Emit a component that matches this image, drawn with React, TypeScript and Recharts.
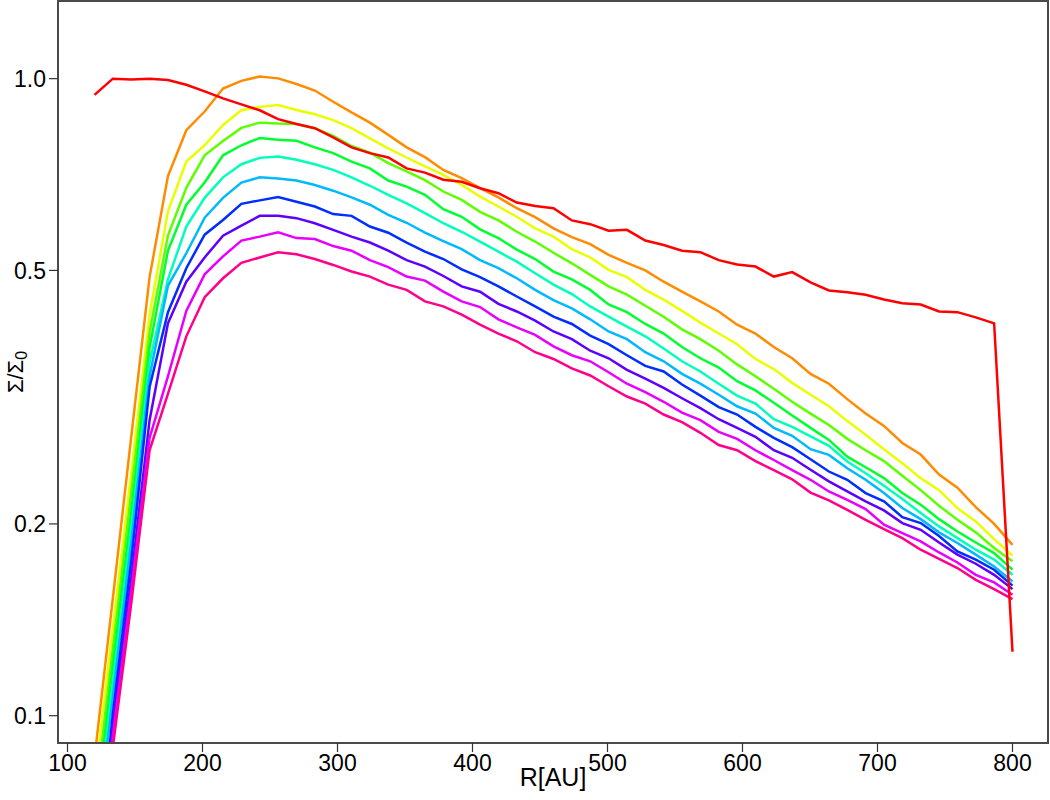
import { LineChart, Line, XAxis, YAxis, ReferenceArea } from "recharts";

// radial grid [AU]
const radius = [
  120, 133.6, 147.2, 160.8, 174.4, 188, 201.6, 215.2, 228.8, 242.4, 256,
  269.6, 283.2, 296.8, 310.4, 324, 337.6, 351.2, 364.8, 378.4, 392, 405.6, 419.2, 432.8, 446.4, 460,
  473.6, 487.2, 500.8, 514.4, 528, 541.6, 555.2, 568.8, 582.4, 596, 609.6, 623.2, 636.8,
  650.4, 664, 677.6, 691.2, 704.8, 718.4, 732, 745.6, 759.2, 772.8, 786.4, 800,
];

// Sigma / Sigma0 for each snapshot
const snap0 = [
  0.943, 1.0, 0.997, 1.0, 0.995, 0.978, 0.955, 0.931, 0.911, 0.892, 0.864,
  0.849, 0.836, 0.809, 0.78, 0.764, 0.752, 0.723, 0.712, 0.694, 0.689, 0.673, 0.661, 0.639, 0.631, 0.626,
  0.599, 0.591, 0.577, 0.579, 0.557, 0.548, 0.537, 0.534, 0.519, 0.511, 0.507, 0.489, 0.497,
  0.479, 0.465, 0.462, 0.458, 0.45, 0.444, 0.442, 0.431, 0.43, 0.422, 0.413, 0.126,
];
const snap1 = [
  0.0857, 0.153, 0.274, 0.488, 0.703, 0.83, 0.888, 0.965, 0.992, 1.008, 1.001,
  0.981, 0.958, 0.92, 0.885, 0.853, 0.816, 0.78, 0.753, 0.719, 0.698, 0.673, 0.651, 0.626, 0.606, 0.582,
  0.564, 0.55, 0.529, 0.514, 0.5, 0.48, 0.463, 0.447, 0.431, 0.411, 0.398, 0.379, 0.364,
  0.344, 0.332, 0.314, 0.298, 0.285, 0.268, 0.257, 0.239, 0.228, 0.2125, 0.2, 0.1854,
];
const snap2 = [
  0.0791, 0.138, 0.241, 0.426, 0.619, 0.741, 0.786, 0.846, 0.892, 0.903, 0.909,
  0.893, 0.879, 0.861, 0.836, 0.806, 0.777, 0.752, 0.728, 0.706, 0.681, 0.653, 0.63, 0.607, 0.582, 0.565,
  0.54, 0.524, 0.501, 0.488, 0.466, 0.45, 0.432, 0.414, 0.398, 0.383, 0.363, 0.35, 0.333,
  0.319, 0.306, 0.29, 0.276, 0.262, 0.249, 0.236, 0.226, 0.2118, 0.2018, 0.1893, 0.1783,
];
const snap3 = [
  0.0724, 0.1276, 0.224, 0.4, 0.567, 0.674, 0.758, 0.798, 0.837, 0.853, 0.85,
  0.849, 0.836, 0.813, 0.784, 0.765, 0.737, 0.715, 0.693, 0.665, 0.645, 0.618, 0.599, 0.575, 0.555, 0.533,
  0.513, 0.492, 0.472, 0.458, 0.44, 0.423, 0.404, 0.39, 0.374, 0.356, 0.341, 0.326, 0.311,
  0.298, 0.286, 0.272, 0.261, 0.251, 0.238, 0.226, 0.2136, 0.203, 0.194, 0.1833, 0.1747,
];
const snap4 = [
  0.0676, 0.12, 0.2087, 0.378, 0.537, 0.634, 0.687, 0.758, 0.786, 0.807, 0.802,
  0.799, 0.78, 0.764, 0.741, 0.723, 0.692, 0.677, 0.657, 0.624, 0.607, 0.58, 0.562, 0.539, 0.521, 0.498,
  0.484, 0.466, 0.442, 0.43, 0.412, 0.398, 0.379, 0.364, 0.352, 0.335, 0.324, 0.31, 0.296,
  0.283, 0.271, 0.255, 0.2455, 0.236, 0.2236, 0.2144, 0.2035, 0.1946, 0.187, 0.18, 0.1695,
];
const snap5 = [
  0.0635, 0.1124, 0.196, 0.358, 0.484, 0.586, 0.65, 0.7, 0.734, 0.751, 0.755,
  0.746, 0.734, 0.719, 0.7, 0.679, 0.657, 0.637, 0.615, 0.593, 0.575, 0.555, 0.535, 0.516, 0.495, 0.475,
  0.459, 0.439, 0.423, 0.408, 0.394, 0.377, 0.36, 0.347, 0.332, 0.318, 0.309, 0.292, 0.284,
  0.2745, 0.2652, 0.2506, 0.2402, 0.2296, 0.2188, 0.208, 0.1982, 0.19, 0.1822, 0.1758, 0.1664,
];
const snap6 = [
  0.0615, 0.107, 0.187, 0.341, 0.473, 0.532, 0.605, 0.65, 0.687, 0.7, 0.697,
  0.692, 0.681, 0.667, 0.651, 0.634, 0.611, 0.594, 0.573, 0.556, 0.54, 0.519, 0.504, 0.486, 0.466, 0.449,
  0.436, 0.419, 0.401, 0.39, 0.372, 0.36, 0.344, 0.332, 0.319, 0.306, 0.298, 0.283, 0.275,
  0.262, 0.2567, 0.2446, 0.2346, 0.2236, 0.2118, 0.2035, 0.194, 0.1867, 0.179, 0.1715, 0.1624,
];
const snap7 = [
  0.0526, 0.1006, 0.175, 0.328, 0.43, 0.504, 0.569, 0.6, 0.636, 0.644, 0.652,
  0.641, 0.63, 0.613, 0.609, 0.586, 0.573, 0.553, 0.535, 0.521, 0.502, 0.488, 0.472, 0.455, 0.439, 0.423,
  0.412, 0.395, 0.383, 0.368, 0.354, 0.347, 0.331, 0.318, 0.305, 0.297, 0.284, 0.273, 0.264,
  0.2527, 0.2417, 0.2346, 0.2236, 0.217, 0.205, 0.2006, 0.1915, 0.1811, 0.1758, 0.1695, 0.16,
];
const snap8 = [
  0.0484, 0.0974, 0.164, 0.291, 0.413, 0.48, 0.524, 0.567, 0.588, 0.609, 0.609,
  0.604, 0.593, 0.579, 0.565, 0.553, 0.537, 0.519, 0.507, 0.49, 0.472, 0.463, 0.443, 0.431, 0.417, 0.401,
  0.39, 0.374, 0.364, 0.349, 0.338, 0.327, 0.315, 0.304, 0.292, 0.283, 0.274, 0.261, 0.254,
  0.2432, 0.2332, 0.2249, 0.217, 0.21, 0.2006, 0.1958, 0.187, 0.179, 0.1732, 0.1664, 0.158,
];
const snap9 = [
  0.0446, 0.0929, 0.157, 0.273, 0.341, 0.432, 0.493, 0.526, 0.557, 0.565, 0.574,
  0.562, 0.56, 0.546, 0.537, 0.519, 0.506, 0.489, 0.482, 0.463, 0.447, 0.438, 0.419, 0.407, 0.396, 0.38,
  0.368, 0.36, 0.346, 0.332, 0.322, 0.311, 0.299, 0.291, 0.279, 0.272, 0.261, 0.252, 0.243,
  0.2346, 0.2249, 0.2182, 0.211, 0.1994, 0.1935, 0.1877, 0.1804, 0.174, 0.1664, 0.1619, 0.1548,
];
const snap10 = [
  0.0415, 0.0893, 0.15, 0.261, 0.32, 0.394, 0.454, 0.486, 0.514, 0.524, 0.534,
  0.53, 0.521, 0.51, 0.498, 0.489, 0.475, 0.466, 0.447, 0.439, 0.426, 0.411, 0.398, 0.387, 0.372, 0.363,
  0.351, 0.342, 0.329, 0.317, 0.309, 0.297, 0.289, 0.278, 0.266, 0.261, 0.251, 0.243, 0.235,
  0.224, 0.2177, 0.2104, 0.203, 0.1963, 0.19, 0.1822, 0.1762, 0.1705, 0.1634, 0.158, 0.1524,
];

const snapshots = [snap0, snap1, snap2, snap3, snap4, snap5, snap6, snap7, snap8, snap9, snap10];
// rainbow(11)
const snapColors = [
  "#FF0000", "#FF8B00", "#E8FF00", "#5DFF00", "#00FF2E", "#00FFB9",
  "#00B9FF", "#002EFF", "#5D00FF", "#E800FF", "#FF008B",
];

const xTicks = [100, 200, 300, 400, 500, 600, 700, 800];
const yTicks = [0.1, 0.2, 0.5, 1.0];

const chartData = radius.map((r, i) => {
  const row: Record<string, number> = { r };
  snapshots.forEach((s, k) => {
    row[`s${k}`] = s[i];
  });
  return row;
});

const FONT = "'Liberation Sans', Arial, Helvetica, sans-serif";
const FRAME = "#4a4a4a";

const SigmaTitle = (props: any) => {
  const vb = props.viewBox || { x: 0, y: 1, width: 58, height: 742 };
  const cx = vb.x + 15;
  const cy = vb.y + vb.height / 2;
  return (
    <text
      x={cx}
      y={cy}
      transform={`rotate(-90, ${cx}, ${cy})`}
      textAnchor="middle"
      dominantBaseline="central"
      fontSize={22}
      fontFamily={FONT}
      fill="#000"
    >
      Σ/Σ<tspan dy={6} fontSize={16}>0</tspan>
    </text>
  );
};

const App = () => {
  // draw the coloured snapshots first, the red one on top
  const order = [1, 2, 3, 4, 5, 6, 7, 8, 9, 10, 0];
  return (
    <div style={{ position: "absolute", left: 0, top: 0, background: "#fff" }}>
      <LineChart
        width={1050}
        height={800}
        data={chartData}
        margin={{ top: 1, right: 2, bottom: 0, left: 0 }}
      >
        <XAxis
          dataKey="r"
          type="number"
          domain={[92.96, 826.3]}
          allowDataOverflow
          ticks={xTicks}
          height={57}
          tickSize={9}
          tickMargin={3}
          axisLine={{ stroke: FRAME, strokeWidth: 2 }}
          tickLine={{ stroke: "#333", strokeWidth: 1.2 }}
          tick={{ fill: "#000", fontSize: 23, fontFamily: FONT }}
          label={{
            value: "R[AU]",
            position: "insideBottom",
            offset: 14,
            fill: "#000",
            fontSize: 25,
            fontFamily: FONT,
          }}
        />
        <YAxis
          scale="log"
          domain={[0.0906, 1.324]}
          allowDataOverflow
          ticks={yTicks}
          width={58}
          tickSize={9}
          tickMargin={3}
          tickFormatter={(v: number) => v.toFixed(1)}
          axisLine={{ stroke: FRAME, strokeWidth: 2 }}
          tickLine={{ stroke: "#333", strokeWidth: 1.2 }}
          tick={{ fill: "#000", fontSize: 23, fontFamily: FONT }}
          label={<SigmaTitle />}
        />
        {order.map((k) => (
          <Line
            key={k}
            dataKey={`s${k}`}
            stroke={snapColors[k]}
            strokeWidth={2.5}
            dot={false}
            activeDot={false}
            isAnimationActive={false}
          />
        ))}
        <ReferenceArea
          x1={92.96}
          x2={826.3}
          y1={0.0906}
          y2={1.324}
          fill="none"
          stroke={FRAME}
          strokeWidth={2}
          ifOverflow="visible"
        />
      </LineChart>
    </div>
  );
};

export default App;
